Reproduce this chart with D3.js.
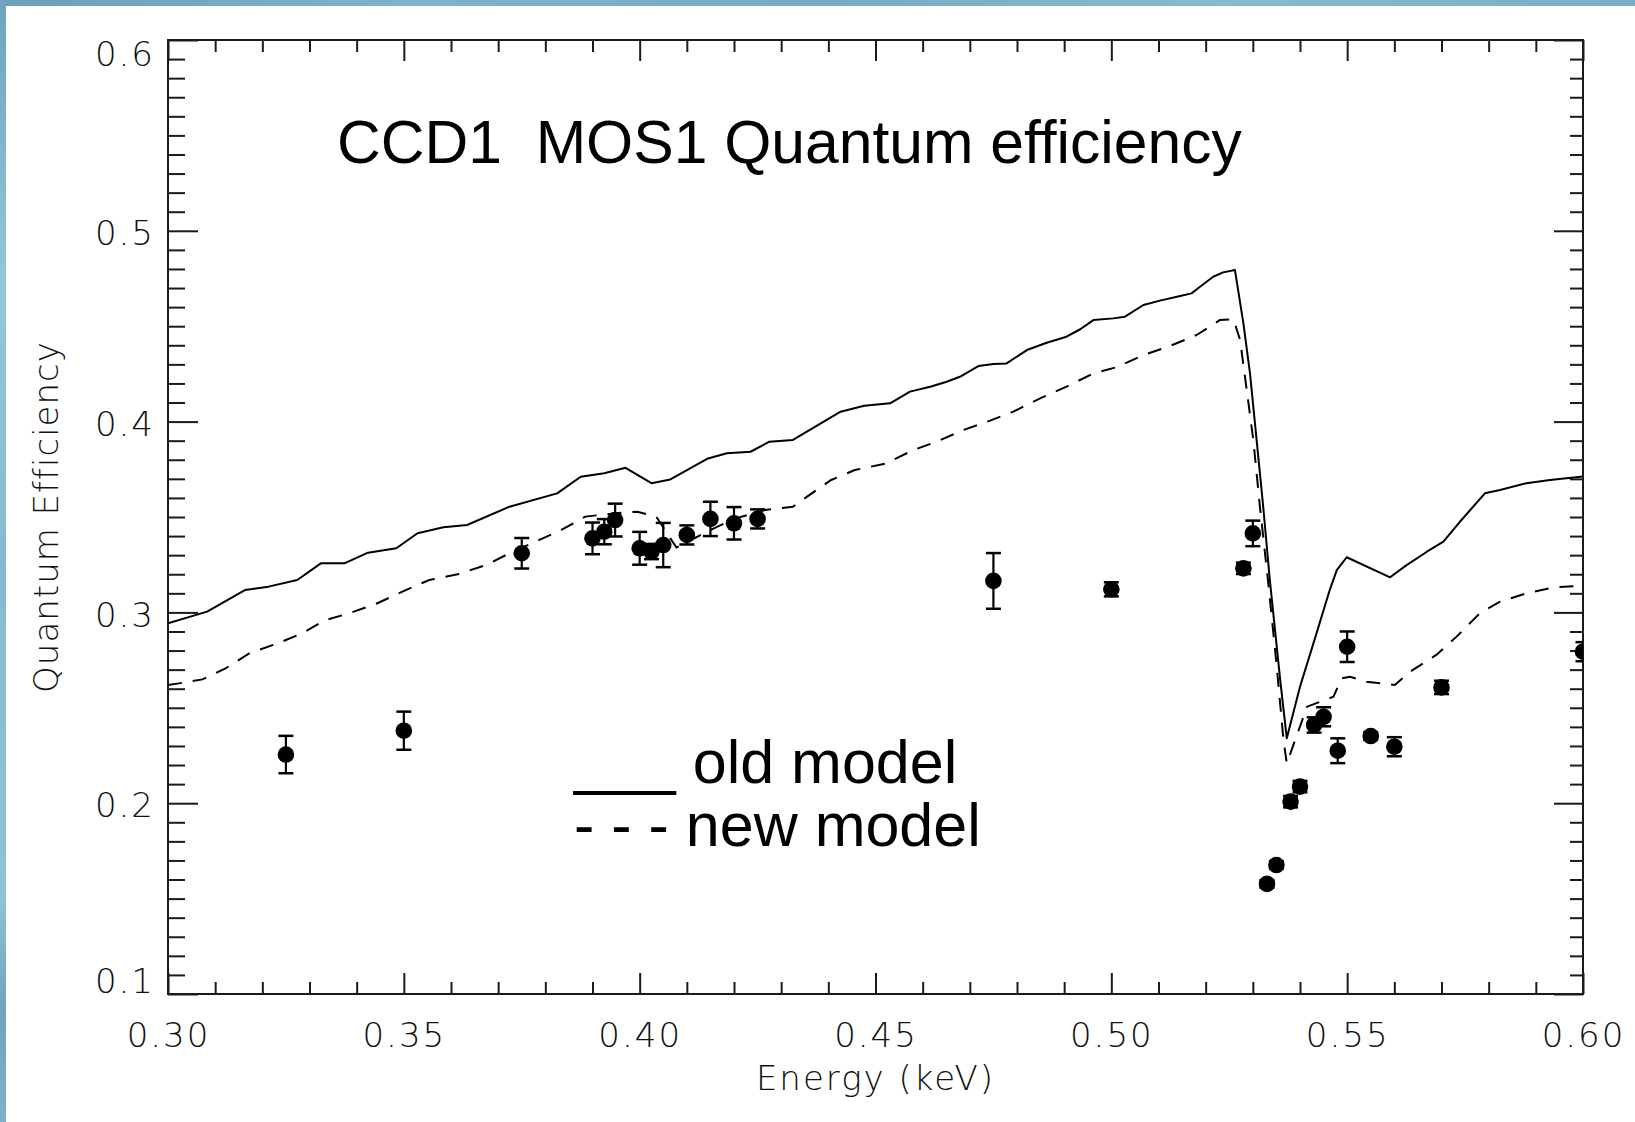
<!DOCTYPE html>
<html>
<head>
<meta charset="utf-8">
<script src="https://cdn.jsdelivr.net/npm/d3@7/dist/d3.min.js"></script>
<style>
  html, body { margin: 0; padding: 0; background: #ffffff; }
  svg { display: block; }
</style>
</head>
<body>
<script>
// CCD1 MOS1 quantum efficiency: measured points vs. old and new response models

// Old model (solid line)
const oldEnergy = [0.300, 0.3083, 0.3163, 0.3213, 0.3274, 0.3324, 0.3374, 0.3424, 0.3484, 0.3529,
  0.3584, 0.3634, 0.3724, 0.3825, 0.3875, 0.3925, 0.397, 0.4025, 0.4065, 0.4145,
  0.4185, 0.4235, 0.4275, 0.4325, 0.4426, 0.4476, 0.4531, 0.4573, 0.4616, 0.4651,
  0.4679, 0.4718, 0.4750, 0.4778, 0.4821, 0.4863, 0.4905, 0.4934, 0.4962, 0.5004,
  0.5029, 0.5068, 0.5103, 0.5146, 0.5170, 0.5188, 0.5216, 0.5237, 0.5262, 0.5280,
  0.5294, 0.5308, 0.5322, 0.5336, 0.5347, 0.5358, 0.5372, 0.5400, 0.5435, 0.5463,
  0.5478, 0.5499, 0.5591, 0.5626, 0.5669, 0.5704, 0.5739, 0.5792, 0.5824, 0.5880,
  0.5930, 0.6000];
const oldQE = [0.2943, 0.3004, 0.3117, 0.3135, 0.3170, 0.3257, 0.3257, 0.3313, 0.3336, 0.3415,
  0.3446, 0.3458, 0.3554, 0.3624, 0.3711, 0.3729, 0.3758, 0.3677, 0.3697, 0.3807,
  0.3834, 0.3842, 0.3895, 0.3904, 0.4052, 0.4083, 0.4096, 0.4157, 0.4183, 0.4209,
  0.4235, 0.4291, 0.4302, 0.4305, 0.4375, 0.4413, 0.4445, 0.4484, 0.4532, 0.4541,
  0.4550, 0.4611, 0.4634, 0.4658, 0.4672, 0.4707, 0.4759, 0.4782, 0.4795, 0.4515,
  0.4253, 0.3904, 0.3554, 0.3170, 0.2908, 0.2646, 0.2340, 0.2610, 0.2890, 0.3117,
  0.3222, 0.3289, 0.3184, 0.3248, 0.3318, 0.3371, 0.3475, 0.3624, 0.3642, 0.3677,
  0.3694, 0.3712];

// New model (dashed line)
const newEnergy = [0.300, 0.3023, 0.3073, 0.3123, 0.3173, 0.3233, 0.3284, 0.3334, 0.3384, 0.3444,
  0.3504, 0.3554, 0.3614, 0.3674, 0.3724, 0.3774, 0.3834, 0.3885, 0.3950, 0.3995,
  0.4035, 0.4078, 0.4140, 0.4200, 0.4266, 0.4325, 0.4355, 0.4406, 0.4456, 0.4523,
  0.4580, 0.4630, 0.4686, 0.4743, 0.4792, 0.4849, 0.4905, 0.4962, 0.5011, 0.5068,
  0.5124, 0.5181, 0.5230, 0.5259, 0.5273, 0.5287, 0.5301, 0.5315, 0.5332, 0.5350,
  0.5365, 0.5372, 0.5415, 0.5471, 0.5488, 0.5506, 0.5541, 0.5601, 0.5633, 0.5689,
  0.5732, 0.5781, 0.5824, 0.5880, 0.5937, 0.6000];
const newQE = [0.2620, 0.2628, 0.2649, 0.2708, 0.2786, 0.2838, 0.2890, 0.2960, 0.2995, 0.3048,
  0.3117, 0.3170, 0.3200, 0.3248, 0.3310, 0.3365, 0.3432, 0.3502, 0.3520, 0.3528,
  0.3502, 0.3340, 0.3420, 0.3490, 0.3537, 0.3554, 0.3607, 0.3694, 0.3746, 0.3781,
  0.3851, 0.3895, 0.3956, 0.4005, 0.4052, 0.4122, 0.4183, 0.4253, 0.4285, 0.4349,
  0.4396, 0.4454, 0.4532, 0.4536, 0.4428, 0.4166, 0.3904, 0.3554, 0.3170, 0.2734,
  0.2331, 0.2209, 0.2506, 0.2558, 0.2654, 0.2663, 0.2637, 0.2620, 0.2689, 0.2777,
  0.2873, 0.2995, 0.3056, 0.3100, 0.3131, 0.3140];

// Measurements with 1-sigma errors
const dataEnergy = [0.325, 0.350, 0.375, 0.390, 0.3925, 0.3948, 0.400, 0.4025, 0.405, 0.410,
  0.415, 0.420, 0.425, 0.475, 0.500, 0.528, 0.530, 0.533, 0.535, 0.538,
  0.540, 0.543, 0.545, 0.548, 0.550, 0.555, 0.560, 0.570, 0.600];
const dataQE = [0.2255, 0.2380, 0.3310, 0.3388, 0.3423, 0.3484, 0.3336, 0.3319, 0.3353, 0.3406,
  0.3490, 0.3467, 0.3490, 0.3165, 0.3121, 0.3231, 0.3414, 0.1577, 0.1676, 0.2008,
  0.2087, 0.2410, 0.2453, 0.2275, 0.2820, 0.2352, 0.2296, 0.2607, 0.2794];
const dataErr = [0.0098, 0.0100, 0.0080, 0.0083, 0.0066, 0.0086, 0.0086, 0.0040, 0.0116, 0.0050,
  0.0090, 0.0085, 0.0050, 0.0146, 0.0037, 0.0030, 0.0067, 0.0020, 0.0020, 0.0030,
  0.0030, 0.0040, 0.0050, 0.0065, 0.0080, 0.0020, 0.0050, 0.0035, 0.0050];

// Axis ticks
const xMajorTicks = [0.30, 0.35, 0.40, 0.45, 0.50, 0.55, 0.60];
const xTickLabels = ["0.30", "0.35", "0.40", "0.45", "0.50", "0.55", "0.60"];
const yMajorTicks = [0.1, 0.2, 0.3, 0.4, 0.5, 0.6];
const yTickLabels = ["0.1", "0.2", "0.3", "0.4", "0.5", "0.6"];

const W = 1635, H = 1122;
const plot = { left: 168, right: 1583, top: 40, bottom: 994 };

const svg = d3.select("body").append("svg")
  .attr("width", W).attr("height", H)
  .attr("viewBox", `0 0 ${W} ${H}`);

const defs = svg.append("defs");

// Slide frame: blue strips along the top and left edges
const gTop = defs.append("linearGradient").attr("id", "frameTop")
  .attr("x1", 0).attr("x2", 1).attr("y1", 0).attr("y2", 0);
[["0", "#6b9fba"], ["0.25", "#7fb3cb"], ["0.5", "#77abc3"], ["0.75", "#86bad1"], ["1", "#79aec6"]]
  .forEach(([o, c]) => gTop.append("stop").attr("offset", o).attr("stop-color", c));
const gLeft = defs.append("linearGradient").attr("id", "frameLeft")
  .attr("x1", 0).attr("x2", 0).attr("y1", 0).attr("y2", 1);
[["0", "#6ea3be"], ["0.25", "#93c6dc"], ["0.5", "#86bad2"], ["0.8", "#8ec2d8"], ["0.9", "#6fa3bd"], ["1", "#7db1c9"]]
  .forEach(([o, c]) => gLeft.append("stop").attr("offset", o).attr("stop-color", c));

svg.append("rect").attr("x", 0).attr("y", 0).attr("width", W).attr("height", H).attr("fill", "#ffffff");
svg.append("rect").attr("x", 0).attr("y", 0).attr("width", W).attr("height", 6).attr("fill", "url(#frameTop)");
svg.append("rect").attr("x", 0).attr("y", 0).attr("width", 6).attr("height", H).attr("fill", "url(#frameLeft)");

defs.append("clipPath").attr("id", "plotClip")
  .append("rect")
  .attr("x", plot.left).attr("y", plot.top)
  .attr("width", plot.right - plot.left).attr("height", plot.bottom - plot.top);

const x = d3.scaleLinear().domain([0.30, 0.60]).range([plot.left, plot.right]);
const y = d3.scaleLinear().domain([0.1, 0.6]).range([plot.bottom, plot.top]);

const xMinorTicks = d3.range(30, 61).filter(i => i % 5 !== 0).map(i => i / 100);
const yMinorTicks = d3.range(10, 61).filter(i => i % 10 !== 0).map(i => i / 100);

const axisFont = "'DejaVu Sans', sans-serif";
const inkColor = "#1a1a1a";
const labelInk = "#111111";

function styleAxis(g) {
  g.select(".domain").remove();
  g.selectAll(".tick line").attr("stroke", inkColor).attr("stroke-width", 2);
  g.selectAll(".tick text")
    .attr("fill", labelInk)
    .attr("font-family", axisFont)
    .attr("font-size", 34)
    .attr("font-weight", 200)
    .attr("letter-spacing", 2);
}

// Bottom axis: inward ticks, labelled
svg.append("g").attr("transform", `translate(0,${plot.bottom})`)
  .call(d3.axisBottom(x).tickValues(xMajorTicks).tickSize(-21).tickPadding(29)
    .tickFormat((d, i) => xTickLabels[i]))
  .call(styleAxis);
svg.append("g").attr("transform", `translate(0,${plot.bottom})`)
  .call(d3.axisBottom(x).tickValues(xMinorTicks).tickSize(-12).tickFormat(""))
  .call(styleAxis);

// Top axis: inward ticks only
svg.append("g").attr("transform", `translate(0,${plot.top})`)
  .call(d3.axisTop(x).tickValues(xMajorTicks).tickSize(-21).tickFormat(""))
  .call(styleAxis);
svg.append("g").attr("transform", `translate(0,${plot.top})`)
  .call(d3.axisTop(x).tickValues(xMinorTicks).tickSize(-12).tickFormat(""))
  .call(styleAxis);

// Left axis: inward ticks, labelled
const yLeft = svg.append("g").attr("transform", `translate(${plot.left},0)`)
  .call(d3.axisLeft(y).tickValues(yMajorTicks).tickSize(-30).tickPadding(13)
    .tickFormat((d, i) => yTickLabels[i]))
  .call(styleAxis);
// end labels sit just inside the frame
yLeft.selectAll(".tick text")
  .attr("dy", d => d === 0.6 ? "0.75em" : d === 0.1 ? "-0.05em" : "0.4em");
svg.append("g").attr("transform", `translate(${plot.left},0)`)
  .call(d3.axisLeft(y).tickValues(yMinorTicks).tickSize(-17).tickFormat(""))
  .call(styleAxis);

// Right axis: inward ticks only
svg.append("g").attr("transform", `translate(${plot.right},0)`)
  .call(d3.axisRight(y).tickValues(yMajorTicks).tickSize(-29).tickFormat(""))
  .call(styleAxis);
svg.append("g").attr("transform", `translate(${plot.right},0)`)
  .call(d3.axisRight(y).tickValues(yMinorTicks).tickSize(-13).tickFormat(""))
  .call(styleAxis);

// Plot frame
svg.append("rect")
  .attr("x", plot.left).attr("y", plot.top)
  .attr("width", plot.right - plot.left).attr("height", plot.bottom - plot.top)
  .attr("fill", "none").attr("stroke", inkColor).attr("stroke-width", 2);

// Axis titles
svg.append("text")
  .attr("x", (plot.left + plot.right) / 2).attr("y", 1090)
  .attr("text-anchor", "middle")
  .attr("font-family", axisFont).attr("font-size", 34).attr("font-weight", 200)
  .attr("letter-spacing", 2).attr("fill", labelInk)
  .text("Energy (keV)");
svg.append("text")
  .attr("transform", `translate(58,${(plot.top + plot.bottom) / 2}) rotate(-90)`)
  .attr("text-anchor", "middle")
  .attr("font-family", axisFont).attr("font-size", 34).attr("font-weight", 200)
  .attr("letter-spacing", 1).attr("fill", labelInk)
  .text("Quantum Efficiency");

// Model curves
const plotArea = svg.append("g").attr("clip-path", "url(#plotClip)");
const line = d3.line().x(d => x(d[0])).y(d => y(d[1]));

plotArea.append("path")
  .datum(d3.zip(oldEnergy, oldQE))
  .attr("d", line)
  .attr("fill", "none").attr("stroke", "#000").attr("stroke-width", 2)
  .attr("stroke-linejoin", "round");

plotArea.append("path")
  .datum(d3.zip(newEnergy, newQE))
  .attr("d", line)
  .attr("fill", "none").attr("stroke", "#000").attr("stroke-width", 2)
  .attr("stroke-dasharray", "14,11");

// Measured points with error bars
const pts = d3.range(dataEnergy.length).map(i => ({ e: dataEnergy[i], q: dataQE[i], err: dataErr[i] }));
const capHalf = 7.5;
const pg = plotArea.selectAll("g.pt").data(pts).join("g").attr("class", "pt");
pg.append("line")
  .attr("x1", d => x(d.e)).attr("x2", d => x(d.e))
  .attr("y1", d => y(d.q - d.err)).attr("y2", d => y(d.q + d.err))
  .attr("stroke", "#000").attr("stroke-width", 2.2);
pg.append("line")
  .attr("x1", d => x(d.e) - capHalf).attr("x2", d => x(d.e) + capHalf)
  .attr("y1", d => y(d.q + d.err)).attr("y2", d => y(d.q + d.err))
  .attr("stroke", "#000").attr("stroke-width", 2.5);
pg.append("line")
  .attr("x1", d => x(d.e) - capHalf).attr("x2", d => x(d.e) + capHalf)
  .attr("y1", d => y(d.q - d.err)).attr("y2", d => y(d.q - d.err))
  .attr("stroke", "#000").attr("stroke-width", 2.5);
pg.append("circle")
  .attr("cx", d => x(d.e)).attr("cy", d => y(d.q))
  .attr("r", 8.3).attr("fill", "#000");

// Title and legend
const labelFont = "'Liberation Sans', Arial, sans-serif";
svg.append("text")
  .attr("x", 337).attr("y", 163)
  .attr("font-family", labelFont).attr("font-size", 60.6)
  .attr("fill", "#000").style("white-space", "pre")
  .text("CCD1  MOS1 Quantum efficiency");
svg.append("text")
  .attr("x", 574).attr("y", 783)
  .attr("font-family", labelFont).attr("font-size", 61)
  .attr("fill", "#000").style("white-space", "pre")
  .text("___ old model");
svg.append("text")
  .attr("x", 574).attr("y", 846)
  .attr("font-family", labelFont).attr("font-size", 61)
  .attr("fill", "#000").style("white-space", "pre")
  .text("- - - new model");
</script>
</body>
</html>
